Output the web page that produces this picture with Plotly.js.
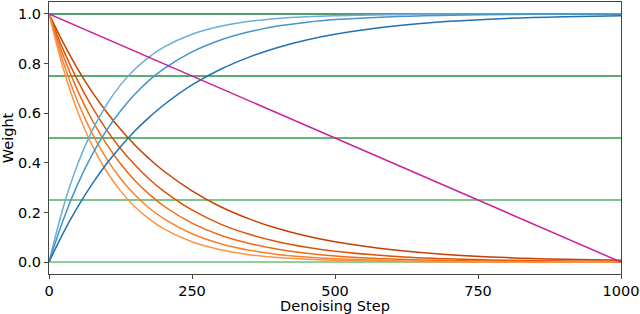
<!DOCTYPE html>
<html>
<head>
<meta charset="utf-8">
<script src="https://cdn.plot.ly/plotly-3.0.1.min.js"></script>
<style>html,body{margin:0;padding:0;background:#fff;}#chart{width:640px;height:314px;}</style>
</head>
<body>
<div id="chart"></div>
<script>
const steps = [0, 25, 50, 75, 100, 125, 150, 175, 200, 250, 300, 350, 400, 450, 500, 600, 700, 800, 900, 1000];

// Rising (blue) weight curves, light -> dark
const blueLight = [0, 0.221, 0.394, 0.528, 0.632, 0.714, 0.777, 0.826, 0.865, 0.918, 0.950, 0.970, 0.982, 0.989, 0.993, 0.997, 0.999, 1.0, 1.0, 1.0];
const blueMid   = [0, 0.171, 0.313, 0.431, 0.529, 0.609, 0.676, 0.732, 0.778, 0.847, 0.895, 0.928, 0.951, 0.966, 0.977, 0.989, 0.995, 0.998, 0.999, 0.999];
const blueDark  = [0, 0.118, 0.221, 0.313, 0.394, 0.465, 0.528, 0.583, 0.632, 0.714, 0.777, 0.826, 0.865, 0.895, 0.918, 0.950, 0.970, 0.982, 0.989, 0.993];

// Decaying (orange) weight curves, light -> dark
const orange1 = [1, 0.779, 0.607, 0.472, 0.368, 0.287, 0.223, 0.174, 0.135, 0.082, 0.050, 0.030, 0.018, 0.011, 0.007, 0.003, 0.001, 0.0, 0.0, 0.0];
const orange2 = [1, 0.805, 0.647, 0.521, 0.419, 0.337, 0.271, 0.218, 0.176, 0.114, 0.074, 0.048, 0.031, 0.020, 0.013, 0.005, 0.002, 0.001, 0.0, 0.0];
const orange3 = [1, 0.831, 0.691, 0.574, 0.477, 0.396, 0.329, 0.274, 0.227, 0.157, 0.108, 0.075, 0.052, 0.036, 0.025, 0.012, 0.006, 0.003, 0.001, 0.001];
const orange4 = [1, 0.855, 0.732, 0.626, 0.535, 0.458, 0.392, 0.335, 0.287, 0.210, 0.153, 0.112, 0.082, 0.060, 0.044, 0.024, 0.013, 0.007, 0.004, 0.002];
const orange5 = [1, 0.883, 0.779, 0.687, 0.607, 0.535, 0.472, 0.417, 0.368, 0.287, 0.223, 0.174, 0.135, 0.105, 0.082, 0.050, 0.030, 0.018, 0.011, 0.007];

// Linear (magenta) schedule
const linearSteps = [0, 1000];
const linearWeight = [1, 0];

// Horizontal reference levels
const levels = [1.0, 0.75, 0.5, 0.25, 0.0];
const levelColors = ["#13803a", "#23913f", "#2f9e48", "#52b35e", "#6cc26e"];

const xTicks = [0, 250, 500, 750, 1000];
const yTicks = [0, 0.2, 0.4, 0.6, 0.8, 1.0];
const yTickText = ["0.0", "0.2", "0.4", "0.6", "0.8", "1.0"];

const traces = [];
levels.forEach((lv, i) => {
  traces.push({x: [steps[0], steps[steps.length - 1]], y: [lv, lv], mode: 'lines',
    line: {color: levelColors[i], width: 1.5}, hoverinfo: 'skip'});
});
const curve = (y, color) => ({x: steps, y: y, mode: 'lines',
  line: {color: color, width: 1.5, shape: 'spline', smoothing: 1}});
traces.push(curve(orange5, "#c44103"));
traces.push(curve(orange4, "#de5208"));
traces.push(curve(orange3, "#f06813"));
traces.push(curve(orange2, "#f9802e"));
traces.push(curve(orange1, "#fd9345"));
traces.push(curve(blueLight, "#6baed6"));
traces.push(curve(blueMid, "#4595c9"));
traces.push(curve(blueDark, "#2171b5"));
traces.push({x: linearSteps, y: linearWeight, mode: 'lines', line: {color: "#cc2299", width: 1.5}});

const font = {family: "DejaVu Sans, sans-serif", size: 14.5, color: "#000"};
const layout = {
  width: 640, height: 314,
  margin: {l: 49, r: 19, t: 2, b: 40},
  paper_bgcolor: "#fff", plot_bgcolor: "#fff",
  showlegend: false,
  font: font,
  xaxis: {
    range: [0, 1000], tickvals: xTicks, ticktext: xTicks.map(String),
    showgrid: false, zeroline: false,
    showline: true, mirror: true, linecolor: "#444", linewidth: 1,
    ticks: "outside", ticklen: 4, tickcolor: "#444", tickwidth: 1,
    tickfont: font,
    title: {text: "Denoising Step", font: font, standoff: 3}
  },
  yaxis: {
    range: [-0.048, 1.048], tickvals: yTicks, ticktext: yTickText,
    showgrid: false, zeroline: false,
    showline: true, mirror: true, linecolor: "#444", linewidth: 1,
    ticks: "outside", ticklen: 4, tickcolor: "#444", tickwidth: 1,
    tickfont: font,
    title: {text: "Weight", font: font, standoff: 5}
  }
};
Plotly.newPlot('chart', traces, layout, {staticPlot: true, displayModeBar: false});
</script>
</body>
</html>
